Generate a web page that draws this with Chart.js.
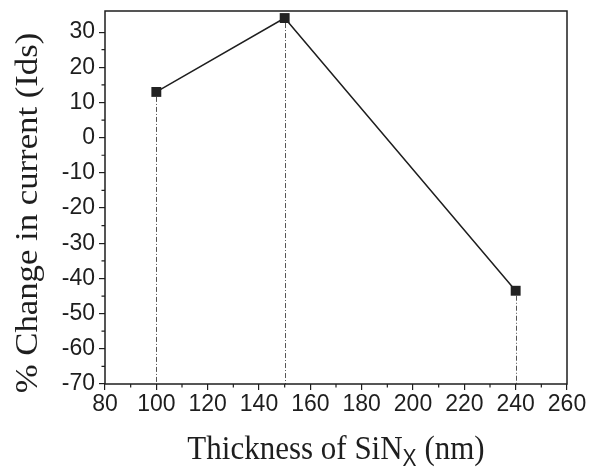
<!DOCTYPE html>
<html>
<head>
<meta charset="utf-8">
<script src="https://cdn.jsdelivr.net/npm/chart.js@4/dist/chart.umd.min.js"></script>
<style>
  html, body { margin: 0; padding: 0; background: #fff; }
  #wrap { width: 593px; height: 474px; position: relative; }
</style>
</head>
<body>
<div id="wrap"><canvas id="chart"></canvas></div>
<script>
  // SiN thickness (nm) vs. % change in drain current
  const thickness = [100, 150, 240];
  const pctChange = [13, 34, -43.5];

  const xTicks = [80, 100, 120, 140, 160, 180, 200, 220, 240, 260];
  const yTicks = [-70, -60, -50, -40, -30, -20, -10, 0, 10, 20, 30];

  const ink = "#1e1e1e";
  const sans = '"Liberation Sans", Arial, sans-serif';
  const serif = '"Liberation Serif", "Times New Roman", serif';

  const points = thickness.map((x, i) => ({ x, y: pctChange[i] }));

  // frame, minor ticks, drop lines and the two axis titles
  const decor = {
    id: "decor",
    beforeDatasetsDraw(chart) {
      const { ctx, chartArea: a, scales: { x, y } } = chart;
      ctx.save();
      ctx.strokeStyle = "#555";
      ctx.lineWidth = 1;
      ctx.setLineDash([5, 2, 1, 2]);
      points.forEach(p => {
        const px = Math.round(x.getPixelForValue(p.x)) + 0.5;
        ctx.beginPath();
        ctx.moveTo(px, y.getPixelForValue(p.y) + 5);
        ctx.lineTo(px, a.bottom);
        ctx.stroke();
      });
      ctx.restore();
    },
    afterDraw(chart) {
      const { ctx, chartArea: a, scales: { x, y } } = chart;
      ctx.save();
      ctx.strokeStyle = ink;
      ctx.lineWidth = 1.5;
      ctx.strokeRect(a.left, a.top, a.right - a.left, a.bottom - a.top);

      // minor ticks halfway between the labelled ones
      ctx.lineWidth = 1.2;
      ctx.beginPath();
      for (let i = 0; i < xTicks.length - 1; i++) {
        const px = x.getPixelForValue((xTicks[i] + xTicks[i + 1]) / 2);
        ctx.moveTo(px, a.bottom);
        ctx.lineTo(px, a.bottom + 3.5);
      }
      for (let i = 0; i < yTicks.length - 1; i++) {
        const py = y.getPixelForValue((yTicks[i] + yTicks[i + 1]) / 2);
        ctx.moveTo(a.left, py);
        ctx.lineTo(a.left - 3.5, py);
      }
      ctx.stroke();

      ctx.fillStyle = ink;
      ctx.textBaseline = "alphabetic";

      // x title: Thickness of SiN_X (nm)
      const big = "31px " + serif;
      const sub = "21px " + sans;
      const parts = [["Thickness of SiN", big, 0], ["X", sub, 6], [" (nm)", big, 0]];
      let total = 0;
      parts.forEach(([t, f]) => { ctx.font = f; total += ctx.measureText(t).width; });
      ctx.save();
      ctx.translate((a.left + a.right) / 2 - total / 2, 459);
      ctx.scale(1, 1.1);
      let cx = 0;
      parts.forEach(([t, f, dy]) => {
        ctx.font = f;
        ctx.fillText(t, cx, dy);
        cx += ctx.measureText(t).width;
      });
      ctx.restore();

      // y title
      ctx.save();
      ctx.font = big;
      ctx.translate(37, 213);
      ctx.rotate(-Math.PI / 2);
      ctx.scale(1.12, 1);
      ctx.textAlign = "center";
      ctx.fillText("% Change in current (Ids)", 0, 0);
      ctx.restore();

      ctx.restore();
    }
  };

  new Chart(document.getElementById("chart"), {
    type: "line",
    data: {
      datasets: [{
        data: points,
        borderColor: ink,
        borderWidth: 1.5,
        backgroundColor: "#222",
        pointStyle: "rect",
        pointRadius: 7,
        pointBorderWidth: 0,
        tension: 0,
        clip: false
      }]
    },
    options: {
      responsive: true,
      maintainAspectRatio: false,
      animation: false,
      layout: { padding: { left: 0, right: 26, top: 11, bottom: 0 } },
      plugins: { legend: { display: false }, tooltip: { enabled: false } },
      scales: {
        x: {
          type: "linear",
          min: 80,
          max: 260,
          afterBuildTicks: s => { s.ticks = xTicks.map(v => ({ value: v })); },
          afterFit: s => { s.height = 90; s.paddingLeft = 0; s.paddingRight = 0; },
          border: { display: false },
          grid: { drawOnChartArea: false, drawTicks: true, tickLength: 6, color: ink, lineWidth: 1.2 },
          ticks: { color: ink, font: { family: sans, size: 23 }, padding: 1, maxRotation: 0 }
        },
        y: {
          min: -70,
          max: 36,
          afterBuildTicks: s => { s.ticks = yTicks.map(v => ({ value: v })); },
          afterFit: s => { s.width = 105; s.paddingTop = 0; s.paddingBottom = 0; },
          border: { display: false },
          grid: { drawOnChartArea: false, drawTicks: true, tickLength: 6, color: ink, lineWidth: 1.2 },
          ticks: { color: ink, font: { family: sans, size: 23 }, padding: 4 }
        }
      }
    },
    plugins: [decor]
  });
</script>
</body>
</html>
